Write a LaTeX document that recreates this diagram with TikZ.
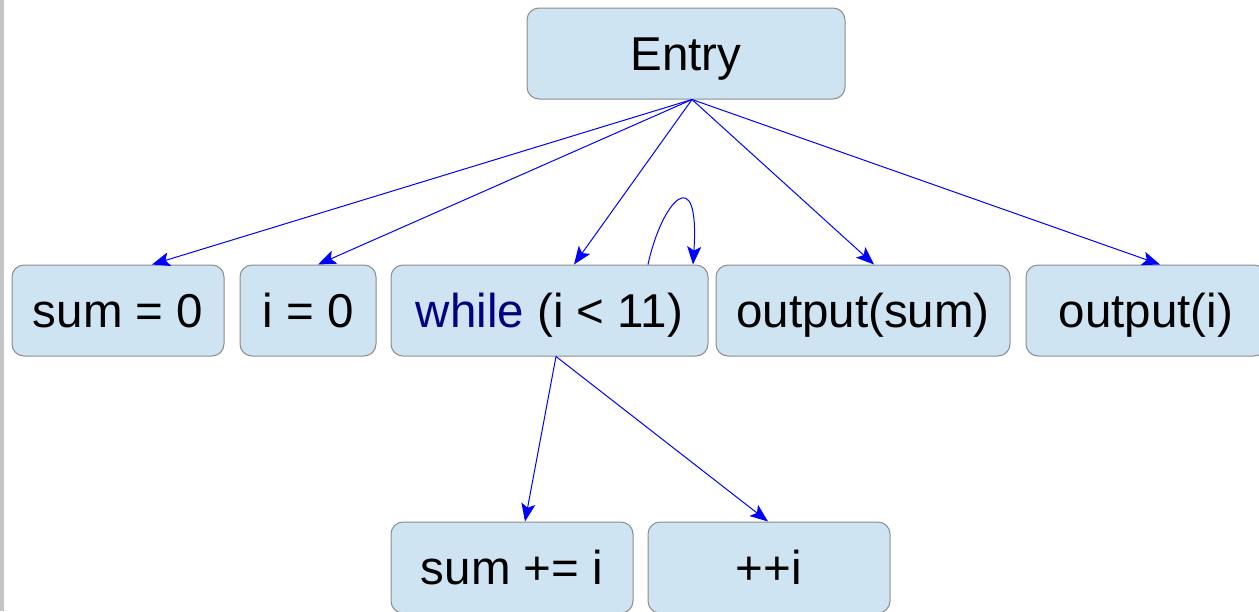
\documentclass[tikz,border=0pt]{standalone}
\usepackage{fontspec}
\setmainfont{Liberation Sans}
\usetikzlibrary{arrows.meta}
\definecolor{boxfill}{HTML}{CFE4F2}
\definecolor{boxline}{HTML}{8C8C8C}
\definecolor{kw}{HTML}{000080}
\definecolor{sidebar}{HTML}{C4C4C4}
\begin{document}
\begin{tikzpicture}[x=1pt,y=-1pt,
  blk/.style={draw=boxline, fill=boxfill, line width=1pt, rounded corners=12pt,
    inner sep=0pt, minimum height=91pt, text height=36pt, text depth=3pt,
    font=\fontsize{47.5}{50}\selectfont, text=black},
  link/.style={draw=blue, line width=1pt, -{Stealth[length=18pt,width=14pt,inset=4pt]}}]
\useasboundingbox (0,0) rectangle (1259,611);
\clip (0,0) rectangle (1259,611);
\fill[sidebar] (0,0) rectangle (4,611);

% boxes
\node[blk, minimum width=318pt] (entry) at (686,53.5) {Entry};
\node[blk, minimum width=212pt] (sumz) at (118,310.5) {sum = 0};
\node[blk, minimum width=136pt] (iz) at (308,310.5) {i = 0};
\node[blk, minimum width=317pt] (wh) at (549.5,310.5) {{\color{kw}while} (i < 11)};
\node[blk, minimum width=294pt] (outs) at (863,310.5) {output(sum)};
\node[blk, minimum width=240pt] (outi) at (1146,310.5) {output(i)};
\node[blk, minimum width=242pt] (sumi) at (512,567.5) {sum += i};
\node[blk, minimum width=242pt] (inc) at (769,567.5) {++i};

% edges from the entry block
\coordinate (eo) at ([xshift=6pt]entry.south);
\draw[link] (eo) -- ([xshift=34pt]sumz.north);
\draw[link] (eo) -- ([xshift=10pt]iz.north);
\draw[link] (eo) -- ([xshift=24.5pt]wh.north);
\draw[link] (eo) -- ([xshift=11pt]outs.north);
\draw[link] (eo) -- ([xshift=14pt]outi.north);

% loop back edge
\draw[link] ([xshift=98.5pt]wh.north) .. controls (662,200) and (700,160) .. ([xshift=143.5pt]wh.north);

% loop body
\coordinate (wo) at ([xshift=6.5pt]wh.south);
\draw[link] (wo) -- ([xshift=13pt]sumi.north);
\draw[link] (wo) -- ([xshift=-1pt]inc.north);
\end{tikzpicture}
\end{document}
